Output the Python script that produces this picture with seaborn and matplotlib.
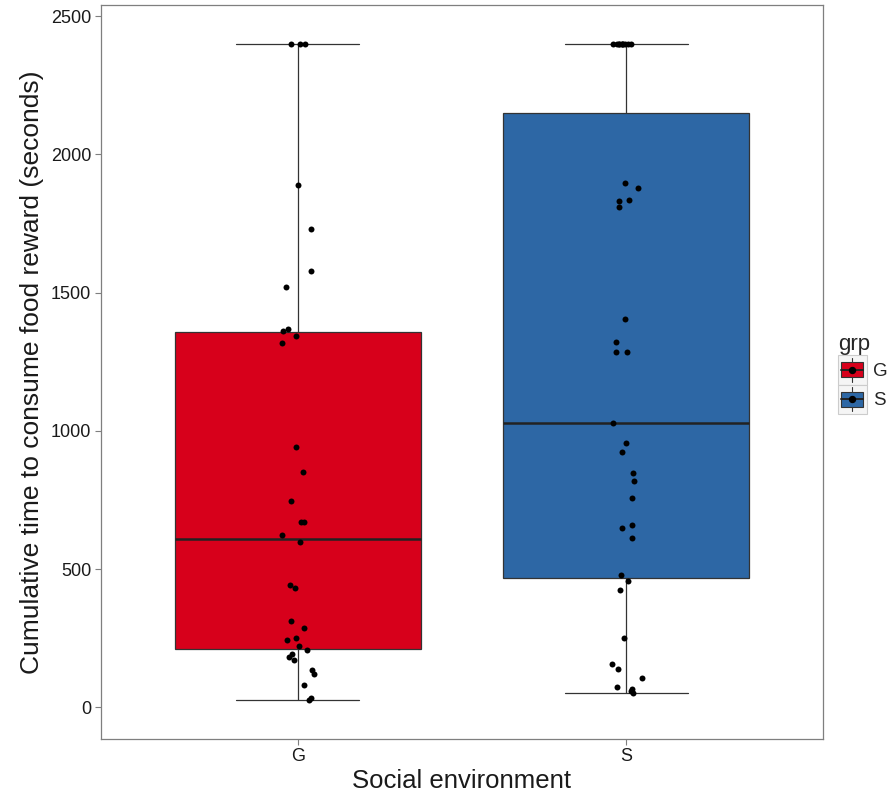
import numpy as np
import pandas as pd
import matplotlib
matplotlib.use("Agg")
import matplotlib.pyplot as plt
import seaborn as sns
from matplotlib.patches import Patch, Rectangle
from matplotlib.lines import Line2D
from matplotlib.legend_handler import HandlerBase

# Cumulative time (s) to consume the food reward, per social environment
groups = ["G", "S"]
g_times = [2400, 2400, 2400,
           1889, 1729, 1578, 1521, 1368, 1362, 1342, 1319,
           943, 852, 747, 671, 671, 622, 599, 442, 431, 313, 287,
           252, 243, 221, 206, 192, 182, 170, 134, 120, 81, 34, 27]
s_times = [2400, 2400, 2400, 2400, 2400, 2400, 2400, 2400, 2400, 2400,
           1897, 1879, 1834, 1831, 1810, 1403, 1323, 1286, 1284,
           1028, 955, 923, 848, 820, 758, 659, 650, 611,
           477, 458, 425, 252, 155, 137, 106, 74, 66, 60, 53]
colors = {"G": "#D7001B", "S": "#2D67A5"}

df = pd.DataFrame({
    "grp": ["G"] * len(g_times) + ["S"] * len(s_times),
    "time": g_times + s_times,
})

sns.set_theme(style="white")
plt.rcParams["font.family"] = ["Liberation Sans", "DejaVu Sans"]

fig = plt.figure(figsize=(8.91, 7.96), dpi=100)
ax = fig.add_axes([101 / 891, 1 - 738.6 / 796, (823 - 101) / 891, (738.6 - 5) / 796])

line_col = "#333333"
sns.boxplot(data=df, x="grp", y="time", hue="grp", palette=colors,
            order=groups, hue_order=groups, width=0.75, whis=1.5,
            saturation=1, showfliers=False, legend=False, ax=ax,
            linewidth=0.9, linecolor=line_col,
            medianprops=dict(color="#222222", linewidth=1.8))

# whisker caps spanning half the box width
for ln in ax.lines:
    xd = np.asarray(ln.get_xdata(), dtype=float)
    yd = np.asarray(ln.get_ydata(), dtype=float)
    if len(xd) == 2 and yd[0] == yd[1] and 0.3 < abs(xd[1] - xd[0]) < 0.6 and ln.get_linewidth() < 1.5:
        c = xd.mean()
        ln.set_xdata([c - 0.1875, c + 0.1875])

np.random.seed(3)
sns.stripplot(data=df, x="grp", y="time", order=groups, color="black",
              jitter=0.05, size=4.3, linewidth=0, ax=ax, legend=False)

# axis range padded around the data extent
lo, hi = df["time"].min(), df["time"].max()
pad = 0.059 * (hi - lo)
ax.set_ylim(lo - pad, hi + pad)
ax.set_xlim(-0.6, 1.6)
ax.set_yticks([0, 500, 1000, 1500, 2000, 2500])
ax.grid(False)
for sp in ax.spines.values():
    sp.set_color("#7f7f7f")
    sp.set_linewidth(0.9)
ax.tick_params(axis="both", length=4, width=0.8, color="#7f7f7f",
               labelsize=13, labelcolor="#1a1a1a", pad=3, left=True, bottom=True)
ax.set_xlabel("Social environment", fontsize=18.5, color="#1a1a1a", labelpad=3)
ax.set_ylabel("Cumulative time to consume food reward (seconds)", fontsize=19,
              color="#1a1a1a", labelpad=5)


class BoxKey(HandlerBase):
    def create_artists(self, legend, orig_handle, xdescent, ydescent,
                       width, height, fontsize, trans):
        x0, y0 = -xdescent, -ydescent
        bg = Rectangle((x0, y0), width, height, facecolor="#f5f5f5",
                       edgecolor="#cccccc", lw=0.8, transform=trans)
        cx, cy = x0 + width / 2, y0 + height / 2
        whisk = Line2D([cx, cx], [y0 + 0.1 * height, y0 + 0.9 * height],
                       color=line_col, lw=0.8, transform=trans)
        box = Rectangle((x0 + 0.12 * width, y0 + 0.25 * height), 0.76 * width,
                        0.5 * height, facecolor=orig_handle.get_facecolor(),
                        edgecolor=line_col, lw=0.8, transform=trans)
        med = Line2D([x0 + 0.12 * width, x0 + 0.88 * width], [cy, cy],
                     color="#222222", lw=1.4, transform=trans)
        dot = Line2D([cx], [cy], marker="o", markersize=4.3, color="black",
                     linestyle="none", transform=trans)
        return [bg, whisk, box, med, dot]


handles = [Patch(facecolor=colors[g]) for g in groups]
leg = fig.legend(handles, groups, title="grp", loc="center left",
                 bbox_to_anchor=(834 / 891, 1 - 374 / 796), frameon=False,
                 fontsize=13.5, title_fontsize=16, handlelength=1.55,
                 handleheight=2.05, labelspacing=0.0, handletextpad=0.35,
                 borderpad=0.2, borderaxespad=0.0,
                 handler_map={Patch: BoxKey()})
leg._legend_box.align = "left"

fig.savefig("out.png", dpi=100)
